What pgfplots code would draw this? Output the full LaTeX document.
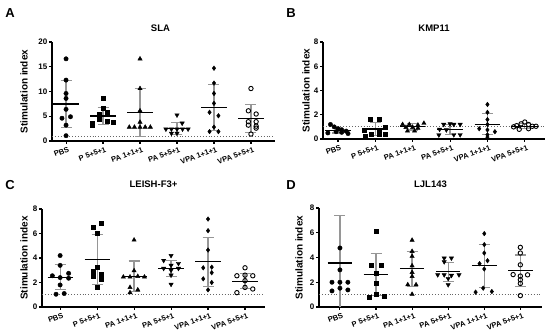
\documentclass[border=0pt]{standalone}
\usepackage{pgfplots}
\pgfplotsset{compat=1.18}
\usepackage{fontspec}
\setmainfont{Liberation Sans}
\definecolor{sdgray}{RGB}{150,150,150}
\pgfplotsset{
  panel/.style={
    scale only axis, clip=true,
    axis x line*=bottom, axis y line*=left,
    axis line style={line width=1.1pt},
    tick style={line width=1.1pt, black},
    tick align=outside, major tick length=3pt,
    xtick={0,...,5},
    xticklabels={PBS,P 5+5+1,PA 1+1+1,PA 5+5+1,VPA 1+1+1,VPA 5+5+1},
    xticklabel style={rotate=20, anchor=north east, font=\bfseries\fontsize{7.5}{8}\selectfont, inner sep=1pt, xshift=2pt, yshift=-2pt},
    yticklabel style={font=\bfseries\fontsize{8}{9}\selectfont, inner sep=1.5pt},
    /pgf/number format/assume math mode=true,
    ylabel={Stimulation index},
    ylabel style={font=\bfseries\fontsize{10}{11}\selectfont, at={(axis description cs:0,0.5)}, anchor=center},
    title style={font=\bfseries\fontsize{9.5}{11}\selectfont, at={(axis description cs:0.5,1)}, anchor=base},
    ymin=0, unbounded coords=jump,
  },
  sd/.style={mark=none, draw=none, forget plot, error bars/.cd, y dir=both, y explicit,
    error bar style={draw=sdgray, line width=1.2pt},
    error mark options={draw=sdgray, rotate=90, mark size=5.5pt, line width=1.2pt}},
  mn/.style={black, line width=1.2pt, mark=none},
  dl/.style={black!60, dotted, line width=0.9pt, mark=none},
  gPBS/.style={only marks, mark=*, mark size=2.2pt, black},
  gP/.style={only marks, mark=square*, mark size=2pt, black},
  gPA/.style={only marks, mark=triangle*, mark size=2.5pt, black},
  gPAf/.style={only marks, mark=triangle*, mark size=2.5pt, black, mark options={rotate=180}},
  gVPA/.style={only marks, mark=diamond*, mark size=2.3pt, black},
  gVPAf/.style={only marks, mark=o, mark size=2.2pt, black, mark options={fill=white, line width=0.9pt}},
}
\begin{document}
\begin{tikzpicture}[x=1pt,y=1pt]
% ---------------- A: SLA ----------------
\begin{axis}[panel, at={(52pt,194pt)}, anchor=south west, width=223pt, height=99pt,
  xmin=-0.38, xmax=5.65, ymax=20, ytick={0,5,10,15,20},
  title={SLA}, title style={yshift=5pt, xshift=-3pt}, ylabel style={yshift=28pt}]
\addplot[dl] coordinates {(-0.38,1) (5.65,1)};
\addplot[sd] coordinates {(0,7.47) += (0,4.83) -= (0,4.77) (1,5.05) += (0,1.75) -= (0,1.65) (2,5.7) += (0,4.9) -= (0,4.85) (3,2.6) += (0,1.15) -= (0,1.25) (4,6.75) += (0,4.7) -= (0,4.55) (5,4.58) += (0,2.82) -= (0,2.88)};
\addplot[mn] coordinates {(-0.34,7.47) (0.34,7.47) (nan,nan) (0.66,5.05) (1.34,5.05) (nan,nan) (1.66,5.7) (2.34,5.7) (nan,nan) (2.66,2.6) (3.34,2.6) (nan,nan) (3.66,6.75) (4.34,6.75) (nan,nan) (4.66,4.58) (5.34,4.58)};
\addplot[gPBS] coordinates {(0,16.6) (0,12.3) (0,9.6) (0,8.6) (0,6.4) (-0.11,4.6) (0.12,4.9) (0,3.2) (0,1.07)};
\addplot[gP] coordinates {(1,8.6) (1,6.7) (1.1,5.8) (0.9,5.45) (0.9,4.4) (1.1,4.0) (1.28,3.8) (0.71,3.6) (0.71,3.1)};
\addplot[gPA] coordinates {(2,16.6) (2,10.6) (2,6.1) (2,3.8) (1.71,2.8) (1.85,2.8) (2,2.8) (2.14,2.8) (2.28,2.8)};
\addplot[gPAf] coordinates {(3,5.25) (3.14,3.6) (2.7,2.4) (2.85,2.4) (3,2.4) (3.15,2.4) (3.3,2.4) (2.85,1.55) (3,1.55)};
\addplot[gVPA] coordinates {(4,14.7) (4,11.7) (4,9.6) (4,7.6) (3.88,5.8) (4.12,5.1) (4,2.8) (3.88,1.9) (4.12,1.9)};
\addplot[gVPAf] coordinates {(5,10.6) (4.93,6.1) (5.14,5.45) (4.93,3.9) (5.14,3.9) (4.93,3.2) (5.14,3.0) (5.14,2.6) (5,1.4)};
\end{axis}
% ---------------- B: KMP11 ----------------
\begin{axis}[panel, at={(323pt,196pt)}, anchor=south west, width=222pt, height=97pt,
  xmin=-0.4, xmax=5.54, ymax=8, ytick={0,2,4,6,8},
  title={KMP11}, title style={yshift=5pt}, ylabel style={yshift=17pt}]
\addplot[dl] coordinates {(-0.4,1) (5.54,1)};
\addplot[sd] coordinates {(0,0.73) += (0,0.22) -= (0,0.23) (1,0.82) += (0,0.53) -= (0,0.52) (2,1.0) += (0,0.3) -= (0,0.25) (3,0.8) += (0,0.4) -= (0,0.4) (4,1.2) += (0,0.9) -= (0,0.85) (5,1.05) += (0,0.2) -= (0,0.2)};
\addplot[mn] coordinates {(-0.34,0.73) (0.34,0.73) (nan,nan) (0.66,0.82) (1.34,0.82) (nan,nan) (1.66,1.0) (2.34,1.0) (nan,nan) (2.66,0.8) (3.34,0.8) (nan,nan) (3.66,1.2) (4.34,1.2) (nan,nan) (4.66,1.05) (5.34,1.05)};
\addplot[gPBS] coordinates {(-0.2,1.2) (-0.1,1.0) (0,0.85) (0.1,0.75) (0.22,0.65) (-0.27,0.5) (-0.05,0.6) (0.1,0.55) (0.27,0.45)};
\addplot[gP] coordinates {(0.87,1.65) (1.1,1.65) (0.7,0.75) (1.1,0.75) (1.27,0.95) (0.9,0.4) (1.1,0.4) (1.27,0.4) (0.73,0.2)};
\addplot[gPA] coordinates {(1.73,1.2) (1.91,1.2) (2.14,1.15) (2.3,1.3) (1.82,0.96) (2,0.96) (2.14,0.9) (1.86,0.66) (2.05,0.66)};
\addplot[gPAf] coordinates {(2.83,1.2) (3,1.25) (3.1,1.2) (3.27,1.2) (2.72,0.8) (2.9,0.75) (2.7,0.33) (3.1,0.35) (3.27,0.35)};
\addplot[gVPA] coordinates {(4,2.85) (4,2.2) (4,1.6) (4,1.2) (3.78,0.85) (4,0.75) (4.2,0.6) (4,0.35) (4,0.15)};
\addplot[gVPAf] coordinates {(5,1.4) (4.9,1.25) (5.1,1.2) (4.78,1.1) (5.2,1.05) (5.3,1.05) (4.7,1.0) (4.85,0.8) (5.1,0.85)};
\end{axis}
% ---------------- C: LEISH-F3+ ----------------
\begin{axis}[panel, at={(42pt,28pt)}, anchor=south west, width=223pt, height=98pt,
  xmin=-0.49, xmax=5.54, ymax=8, ytick={0,2,4,6,8},
  title={LEISH-F3+}, title style={yshift=16pt}, ylabel style={yshift=18pt}]
\addplot[dl] coordinates {(-0.49,1) (5.54,1)};
\addplot[sd] coordinates {(0,2.4) += (0,1.05) -= (0,1.0) (1,3.85) += (0,2.05) -= (0,2.0) (2,2.5) += (0,1.25) -= (0,1.25) (3,3.15) += (0,0.65) -= (0,0.65) (4,3.7) += (0,1.95) -= (0,2.0) (5,2.1) += (0,0.65) -= (0,0.6)};
\addplot[mn] coordinates {(-0.34,2.4) (0.34,2.4) (nan,nan) (0.66,3.85) (1.34,3.85) (nan,nan) (1.66,2.5) (2.34,2.5) (nan,nan) (2.66,3.15) (3.34,3.15) (nan,nan) (3.66,3.7) (4.34,3.7) (nan,nan) (4.66,2.1) (5.34,2.1)};
\addplot[gPBS] coordinates {(0,4.2) (0,3.4) (-0.21,2.55) (0.23,2.75) (0,2.4) (0.23,2.35) (0,1.8) (-0.11,1.04) (0.11,1.1)};
\addplot[gP] coordinates {(1.11,6.83) (0.89,6.55) (1,6.0) (1,3.24) (0.89,2.9) (1.11,2.7) (0.89,2.55) (1.11,2.3) (1,1.6)};
\addplot[gPA] coordinates {(2,5.47) (2,2.96) (1.71,2.45) (1.89,2.45) (2.1,2.5) (2.28,2.45) (1.89,1.6) (2.1,1.4) (1.89,1.17)};
\addplot[gPAf] coordinates {(3,4.2) (2.8,3.8) (3.2,3.55) (3,3.4) (2.8,3.15) (3.2,3.15) (3,3.0) (3,2.6) (3,1.85)};
\addplot[gVPA] coordinates {(4,7.18) (4,6.23) (4,4.65) (3.87,3.2) (4.1,3.25) (4.1,2.8) (3.87,2.3) (4.1,2.0) (4,1.4)};
\addplot[gVPAf] coordinates {(5,3.2) (4.78,2.55) (5,2.6) (5.21,2.55) (5,2.15) (5,1.6) (5.21,1.47) (4.78,1.17)};
\end{axis}
% ---------------- D: LJL143 ----------------
\begin{axis}[panel, at={(319pt,28pt)}, anchor=south west, width=223pt, height=99pt,
  xmin=-0.58, xmax=5.6, ymax=8, ytick={0,2,4,6,8},
  title={LJL143}, title style={yshift=15pt}, ylabel style={yshift=20pt}]
\addplot[dl] coordinates {(-0.58,1) (5.6,1)};
\addplot[sd] coordinates {(0,3.55) += (0,3.85) -= (0,3.85) (1,2.65) += (0,1.7) -= (0,1.7) (2,3.1) += (0,1.4) -= (0,1.45) (3,2.85) += (0,0.75) -= (0,0.8) (4,3.35) += (0,1.7) -= (0,1.75) (5,2.95) += (0,1.25) -= (0,1.3)};
\addplot[mn] coordinates {(-0.34,3.55) (0.34,3.55) (nan,nan) (0.66,2.65) (1.34,2.65) (nan,nan) (1.66,3.1) (2.34,3.1) (nan,nan) (2.66,2.85) (3.34,2.85) (nan,nan) (3.66,3.35) (4.34,3.35) (nan,nan) (4.66,2.95) (5.34,2.95)};
\addplot[gPBS] coordinates {(0,4.77) (0,3.0) (-0.22,2.0) (0,2.0) (0.22,2.0) (0,1.52) (0.22,1.38) (-0.22,1.3)};
\addplot[gP] coordinates {(1,6.12) (0.88,3.4) (1.13,3.4) (1,2.74) (1,1.93) (1,1.03) (0.8,0.79) (1.22,0.85)};
\addplot[gPA] coordinates {(2,5.4) (2,4.5) (2,4.1) (2,3.33) (2,2.8) (2,2.47) (1.88,1.8) (2.11,1.8) (2,1.03)};
\addplot[gPAf] coordinates {(2.89,3.95) (3.09,3.95) (2.89,3.65) (2.71,2.6) (2.89,2.6) (3.3,2.6) (3.09,2.55) (3,2.3) (3,1.8)};
\addplot[gVPA] coordinates {(4,5.93) (4,5.04) (4,4.36) (4.09,3.74) (3.87,3.5) (4,3.07) (3.97,1.52) (3.76,1.2) (4.21,1.25)};
\addplot[gVPAf] coordinates {(5,4.82) (5,4.36) (5,3.41) (4.8,2.62) (5.2,2.6) (5,2.5) (5,2.2) (5,1.9) (5,0.92)};
\end{axis}
% panel letters
\node[font=\bfseries\fontsize{13}{14}\selectfont] at (10pt,322pt) {A};
\node[font=\bfseries\fontsize{13}{14}\selectfont] at (291pt,322pt) {B};
\node[font=\bfseries\fontsize{13}{14}\selectfont] at (10pt,150pt) {C};
\node[font=\bfseries\fontsize{13}{14}\selectfont] at (291pt,150pt) {D};
\pgfresetboundingbox
\path (0,0) rectangle (550pt,335pt);
\end{tikzpicture}
\end{document}
